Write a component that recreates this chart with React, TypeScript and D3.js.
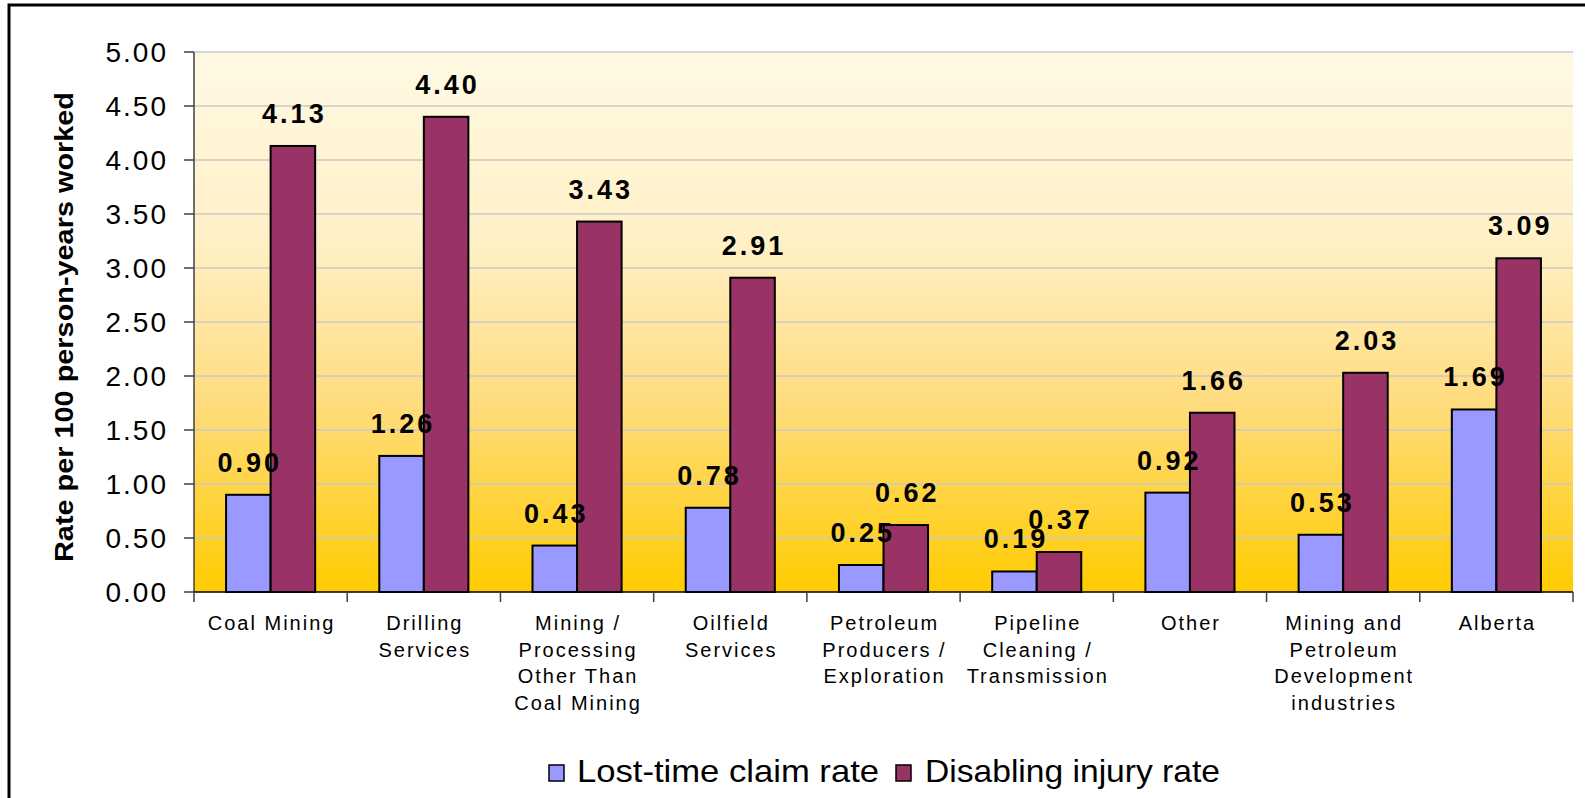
import React from "react";
import * as d3 from "d3";

const categories = [
  ["Coal Mining"],
  ["Drilling", "Services"],
  ["Mining /", "Processing", "Other Than", "Coal Mining"],
  ["Oilfield", "Services"],
  ["Petroleum", "Producers /", "Exploration"],
  ["Pipeline", "Cleaning /", "Transmission"],
  ["Other"],
  ["Mining and", "Petroleum", "Development", "industries"],
  ["Alberta"],
];
const seriesNames = ["Lost-time claim rate", "Disabling injury rate"];
const lostTime = [0.9, 1.26, 0.43, 0.78, 0.25, 0.19, 0.92, 0.53, 1.69];
const disabling = [4.13, 4.4, 3.43, 2.91, 0.62, 0.37, 1.66, 2.03, 3.09];
const yTickValues = [0, 0.5, 1, 1.5, 2, 2.5, 3, 3.5, 4, 4.5, 5];
const colors = ["#9999FF", "#993366"];

const font = "'Liberation Sans', Arial, sans-serif";

const App = () => {
  const width = 1585, height = 798;
  const left = 194, right = 1573, top = 52, bottom = 592;

  const keys = categories.map(c => c.join(" "));
  const x = d3.scaleBand().domain(keys).range([left, right]).padding(0);
  const xs = d3.scaleBand().domain(seriesNames).range([0, x.bandwidth()]).paddingInner(0).paddingOuter(0.72);
  const y = d3.scaleLinear().domain([0, 5]).range([bottom, top]);

  const series = [lostTime, disabling];

  return (
    <svg width={width} height={height} style={{ position: "absolute", left: 0, top: 0, display: "block" }}>
      <defs>
        <linearGradient id="bg" x1="0" y1="0" x2="0" y2="1">
          <stop offset="0%" stopColor="#FFF9E4" />
          <stop offset="35%" stopColor="#FFF0C6" />
          <stop offset="65%" stopColor="#FFDC7E" />
          <stop offset="100%" stopColor="#FFCC00" />
        </linearGradient>
      </defs>
      <rect x={0} y={0} width={width} height={height} fill="#fff" />
      <rect x={9} y={5} width={1700} height={900} fill="none" stroke="#000" strokeWidth={3} />

      <rect x={left} y={top} width={right - left} height={bottom - top} fill="url(#bg)" />

      {yTickValues.map(t => (
        <g key={t}>
          {t > 0 && <line x1={left} x2={right} y1={y(t)} y2={y(t)} stroke="#C8C8C8" strokeWidth={1.5} />}
          <line x1={left - 10} x2={left} y1={y(t)} y2={y(t)} stroke="#404040" strokeWidth={1.5} />
          <text x={168} y={y(t) + 10} textAnchor="end" fontFamily={font} fontSize={28} letterSpacing={2} fill="#000">
            {t.toFixed(2)}
          </text>
        </g>
      ))}
      <line x1={left} x2={left} y1={top} y2={bottom} stroke="#404040" strokeWidth={1.5} />

      {keys.map((k, i) => (
        <g key={k}>
          {series.map((s, j) => (
            <rect key={j} x={x(k)! + xs(seriesNames[j])!} y={y(s[i])} width={xs.bandwidth()} height={y(0) - y(s[i])}
              fill={colors[j]} stroke="#000" strokeWidth={2} />
          ))}
        </g>
      ))}

      <line x1={left} x2={right} y1={bottom} y2={bottom} stroke="#000" strokeWidth={1.5} />
      {[...keys.map(k => x(k)!), right].map((v, i) => (
        <line key={i} x1={v} x2={v} y1={bottom} y2={bottom + 10} stroke="#404040" strokeWidth={1.5} />
      ))}

      {keys.map((k, i) => (
        <text key={k} textAnchor="middle" fontFamily={font} fontSize={20} letterSpacing={2} fill="#000">
          {categories[i].map((line, li) => (
            <tspan key={li} x={x(k)! + x.bandwidth() / 2 + 1} y={630 + li * 26.7}>{line}</tspan>
          ))}
        </text>
      ))}

      {keys.map((k, i) => series.map((s, j) => (
        <text key={k + j} x={x(k)! + xs(seriesNames[j])! + xs.bandwidth() / 2 + 1.5} y={y(s[i]) - 23}
          textAnchor="middle" fontFamily={font} fontWeight="bold" fontSize={27} letterSpacing={3} fill="#000">
          {s[i].toFixed(2)}
        </text>
      )))}

      <text transform={`translate(73,327) rotate(-90)`} textAnchor="middle" fontFamily={font} fontWeight="bold"
        fontSize={26} textLength={470} lengthAdjust="spacingAndGlyphs" fill="#000">
        Rate per 100 person-years worked
      </text>

      <rect x={549} y={765} width={15} height={16} fill={colors[0]} stroke="#000" strokeWidth={1.5} />
      <text x={577} y={782} fontFamily={font} fontSize={32} textLength={302} lengthAdjust="spacingAndGlyphs" fill="#000">
        {seriesNames[0]}
      </text>
      <rect x={896} y={765} width={15} height={16} fill={colors[1]} stroke="#000" strokeWidth={1.5} />
      <text x={925} y={782} fontFamily={font} fontSize={32} textLength={295} lengthAdjust="spacingAndGlyphs" fill="#000">
        {seriesNames[1]}
      </text>
    </svg>
  );
};

export default App;
